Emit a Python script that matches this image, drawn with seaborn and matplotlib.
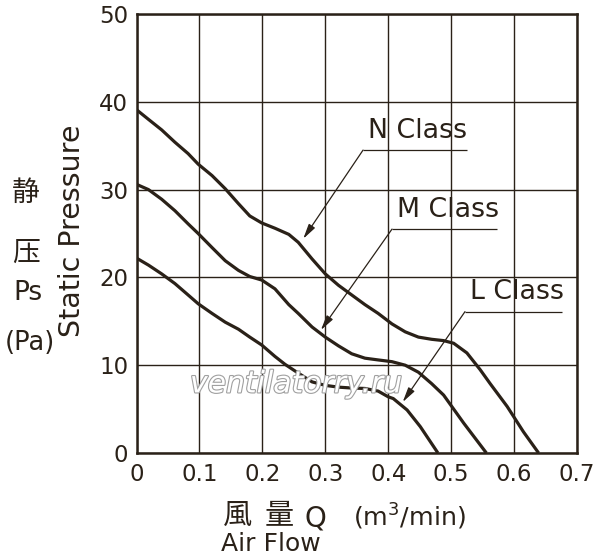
import matplotlib
matplotlib.use("Agg")
import matplotlib.pyplot as plt
import matplotlib.patheffects as pe
import seaborn as sns
import pandas as pd

# ---------------- data ----------------
N_x = [0, 0.019, 0.040, 0.061, 0.082, 0.098, 0.120, 0.141, 0.162, 0.180, 0.199,
       0.220, 0.242, 0.257, 0.279, 0.300, 0.321, 0.342, 0.363, 0.384, 0.406,
       0.427, 0.448, 0.469, 0.488, 0.504, 0.525, 0.546, 0.562, 0.589, 0.615, 0.639]
N_y = [39.1, 38.0, 36.8, 35.4, 34.1, 32.9, 31.6, 30.1, 28.4, 27.0, 26.2,
       25.6, 24.9, 24.0, 22.1, 20.4, 19.1, 18.0, 16.9, 15.9, 14.7,
       13.8, 13.2, 12.95, 12.8, 12.5, 11.4, 9.5, 7.9, 5.3, 2.4, 0]

M_x = [0, 0.019, 0.040, 0.061, 0.082, 0.098, 0.120, 0.141, 0.162, 0.180, 0.199,
       0.220, 0.242, 0.257, 0.279, 0.300, 0.321, 0.342, 0.363, 0.384, 0.406,
       0.427, 0.448, 0.469, 0.488, 0.520, 0.556]
M_y = [30.6, 30.0, 28.9, 27.6, 26.1, 25.0, 23.4, 21.9, 20.8, 20.1, 19.7,
       18.7, 16.9, 15.9, 14.35, 13.2, 12.2, 11.3, 10.8, 10.6, 10.4,
       10.0, 9.2, 7.9, 6.6, 3.4, 0]

L_x = [0, 0.019, 0.040, 0.061, 0.082, 0.098, 0.120, 0.141, 0.162, 0.180, 0.199,
       0.220, 0.236, 0.257, 0.279, 0.300, 0.321, 0.342, 0.363, 0.384, 0.400,
       0.408, 0.430, 0.451, 0.479]
L_y = [22.2, 21.4, 20.4, 19.3, 18.0, 17.0, 15.9, 14.9, 14.1, 13.2, 12.3,
       11.0, 10.1, 9.1, 8.1, 7.7, 7.5, 7.4, 7.35, 7.05, 6.4,
       6.2, 4.9, 3.0, 0]

classes = ["N Class", "M Class", "L Class"]
x_ticks = [0, 0.1, 0.2, 0.3, 0.4, 0.5, 0.6, 0.7]
x_tick_labels = ["0", "0.1", "0.2", "0.3", "0.4", "0.5", "0.6", "0.7"]
y_ticks = [0, 10, 20, 30, 40, 50]
y_tick_labels = ["0", "10", "20", "30", "40", "50"]

# ---------------- styling ----------------
INK = "#2a2118"
sns.set_style("white")
plt.rcParams["font.family"] = ["DejaVu Sans", "Noto Sans CJK JP"]
plt.rcParams["text.color"] = INK

frames = []
for name, xs, ys in zip(classes, [N_x, M_x, L_x], [N_y, M_y, L_y]):
    frames.append(pd.DataFrame({"Q": xs, "Ps": ys, "cls": name}))
df = pd.concat(frames, ignore_index=True)

W, H = 600, 558
fig = plt.figure(figsize=(W / 100, H / 100), dpi=100)
ax_l, ax_r, ax_b, ax_t = 136.5, 577, 453, 14
ax = fig.add_axes([ax_l / W, 1 - ax_b / H, (ax_r - ax_l) / W, (ax_b - ax_t) / H])

sns.lineplot(data=df, x="Q", y="Ps", hue="cls", units="cls", estimator=None,
             sort=False, palette={c: INK for c in classes}, legend=False,
             linewidth=2.3, ax=ax, zorder=3,
             solid_capstyle="butt", solid_joinstyle="round")

ax.set_xlim(0, 0.7)
ax.set_ylim(0, 50)
ax.set_xticks(x_ticks)
ax.set_xticklabels(x_tick_labels)
ax.set_yticks(y_ticks)
ax.set_yticklabels(y_tick_labels)
ax.tick_params(axis="both", length=0, labelsize=16.5, colors=INK)
ax.tick_params(axis="x", pad=7)
ax.tick_params(axis="y", pad=6)
ax.set_xlabel("")
ax.set_ylabel("")
ax.grid(True, color=INK, linewidth=1.0)
ax.set_axisbelow(True)
for s in ax.spines.values():
    s.set_color(INK)
    s.set_linewidth(1.8)
    s.set_visible(True)

# ---------------- annotations ----------------
ann = [
    # label, text-left x, underline y, underline x end, arrow tip
    ("N Class", 0.360, 34.5, 0.525, (0.265, 24.4)),
    ("M Class", 0.406, 25.5, 0.573, (0.293, 14.0)),
    ("L Class", 0.522, 16.1, 0.676, (0.423, 5.8)),
]
for label, x0, yu, x1, tip in ann:
    ax.plot([x0, x1], [yu, yu], color=INK, lw=0.9, zorder=4, solid_capstyle="butt")
    ax.text(x0 + 0.008, yu + 0.7, label, fontsize=19.3, color=INK,
            ha="left", va="bottom", zorder=5)
    ax.annotate("", xy=tip, xytext=(x0, yu),
                arrowprops=dict(arrowstyle="-|>,head_length=0.9,head_width=0.22",
                                lw=0.9, color=INK, shrinkA=0, shrinkB=0),
                zorder=5)

# watermark
ax.text(0.085, 6.9, "ventilatorry.ru", fontsize=21.5, style="italic",
        color="white", ha="left", va="baseline", zorder=6,
        path_effects=[pe.Stroke(linewidth=1.6, foreground="#a0a0a0"), pe.Normal()])

# ---------------- outer labels ----------------
def ftext(px, py, s, **kw):
    fig.text(px / W, 1 - py / H, s, color=INK, **kw)

ftext(25.5, 193, "静", fontsize=20, ha="center", va="center")
ftext(25.5, 253, "压", fontsize=20, ha="center", va="center")
ftext(27.5, 293, "Ps", fontsize=19, ha="center", va="center")
ftext(30, 343, "(Pa)", fontsize=18.5, ha="center", va="center")
ftext(72, 231, "Static Pressure", fontsize=20.5, rotation=90,
      ha="center", va="center")
ftext(237.5, 516, "風", fontsize=21, ha="center", va="center")
ftext(279, 516, "量", fontsize=21, ha="center", va="center")
ftext(315, 526, "Q", fontsize=20, ha="center", va="baseline")
ftext(353, 526, "(m$^3$/min)", fontsize=18.3, ha="left", va="baseline")
ftext(221, 551, "Air Flow", fontsize=18, ha="left", va="baseline")

fig.savefig("out.png", dpi=100)
